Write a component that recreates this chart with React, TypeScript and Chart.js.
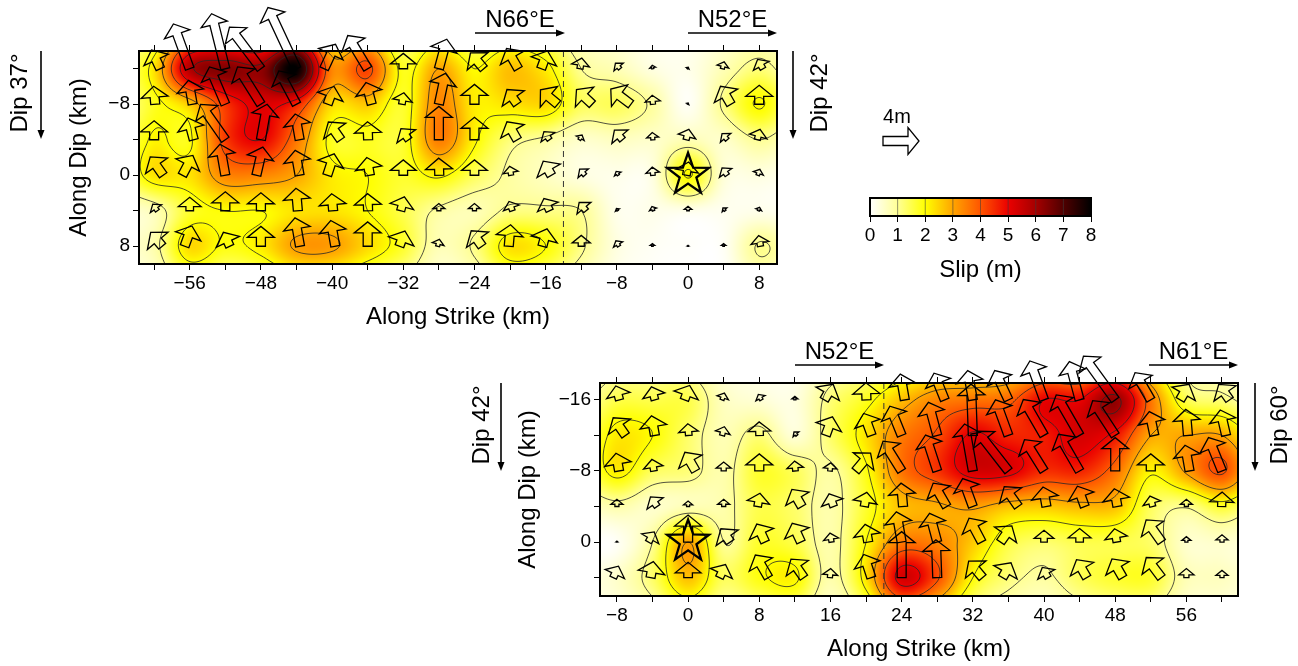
import React, { useEffect, useRef } from "react";
import { Chart, registerables } from "chart.js";

Chart.register(...registerables);

const W = 1298;
const H = 666;
const FONT = '"Liberation Sans", Arial, sans-serif';

// ---------- data, metres / degrees ----------
const topCols = [-60, -56, -52, -48, -44, -40, -36, -32, -28, -24, -20, -16, -12, -8, -4, 0, 4, 8];
const topRows = [-12, -8, -4, 0, 4, 8];
const topSlip = [
  [2.3, 5.8, 6.4, 6.2, 8.0, 3.4, 4.2, 1.8, 3.0, 2.0, 2.7, 2.2, 1.0, 0.7, 0.3, 0.2, 0.7, 1.2],
  [1.8, 2.6, 4.4, 5.2, 4.6, 2.4, 2.6, 1.7, 3.4, 2.2, 2.3, 2.4, 1.4, 1.4, 0.9, 0.1, 1.1, 2.05],
  [2.1, 1.9, 4.3, 5.0, 3.6, 1.8, 1.8, 1.7, 3.5, 2.1, 1.2, 0.9, 0.5, 0.6, 0.5, 0.7, 0.5, 1.0],
  [2.3, 2.3, 3.4, 3.4, 3.0, 2.2, 2.0, 1.7, 2.1, 1.4, 0.9, 0.6, 0.3, 0.2, 0.3, 2.05, 0.4, 0.3],
  [0.7, 1.7, 2.0, 2.0, 2.3, 2.3, 2.0, 1.5, 0.9, 0.7, 1.1, 1.1, 1.0, 0.2, 0.2, 0.2, 0.15, 0.2],
  [0.8, 2.4, 1.9, 2.2, 3.1, 3.1, 2.4, 1.7, 0.7, 1.1, 2.3, 2.0, 1.1, 0.3, 0.1, 0.05, 0.1, 1.05],
];
const topArrowLen = [
  [2.3, 5.3, 6.3, 5.8, 7.5, 3.0, 4.3, 1.7, 3.4, 2.3, 2.6, 2.1, 1.2, 0.8, 0.4, 0.2, 0.8, 1.2],
  [2.0, 2.7, 4.5, 4.9, 4.2, 2.1, 2.5, 1.3, 3.5, 2.2, 2.0, 2.5, 2.4, 2.8, 1.0, 0.15, 2.3, 2.1],
  [2.1, 2.5, 4.8, 4.0, 2.9, 2.4, 2.0, 1.5, 3.7, 2.5, 2.3, 1.1, 0.6, 1.4, 0.8, 1.2, 0.9, 1.2],
  [2.5, 2.5, 3.5, 3.2, 2.8, 2.5, 2.0, 1.7, 1.9, 1.7, 1.0, 1.8, 0.9, 0.5, 0.9, 1.5, 1.0, 0.7],
  [0.9, 1.5, 2.1, 2.0, 2.5, 1.9, 1.9, 1.6, 0.8, 0.8, 1.1, 1.5, 1.2, 0.3, 0.5, 0.5, 0.4, 0.4],
  [2.0, 2.4, 1.7, 2.2, 3.2, 2.9, 2.7, 1.8, 0.8, 2.1, 2.4, 2.0, 1.2, 0.7, 0.3, 0.1, 0.3, 1.2],
];
const topRake = [
  [115, 110, 104, 127, 115, 65, 121, 90, 75, 130, 120, 70, 80, 130, 100, 60, 75, 120],
  [95, 100, 113, 122, 118, 70, 105, 80, 78, 90, 125, 140, 137, 143, 95, 60, 120, 90],
  [90, 105, 125, 80, 100, 125, 92, 125, 90, 90, 120, 125, 60, 130, 95, 75, 130, 75],
  [125, 62, 100, 77, 100, 72, 100, 90, 92, 90, 100, 120, 130, 120, 95, 80, 125, 70],
  [125, 90, 90, 90, 95, 95, 92, 75, 90, 90, 110, 115, 130, 120, 110, 90, 130, 70],
  [130, 70, 115, 90, 100, 100, 90, 70, 75, 125, 85, 75, 90, 120, 90, 90, 90, 100],
];

const botCols = [-8, -4, 0, 4, 8, 12, 16, 20, 24, 28, 32, 36, 40, 44, 48, 52, 56, 60];
const botRows = [-16, -12, -8, -4, 0, 4];
const botSlip = [
  [1.5, 1.5, 1.5, 0.6, 0.4, 0.3, 1.2, 1.8, 2.7, 3.4, 3.6, 3.8, 5.0, 5.0, 6.2, 3.6, 1.5, 1.2],
  [2.2, 2.0, 1.3, 0.7, 1.2, 0.4, 1.3, 2.3, 3.5, 4.1, 5.1, 4.6, 4.7, 5.3, 4.8, 3.0, 3.0, 3.0],
  [2.2, 1.4, 1.2, 0.8, 1.7, 1.4, 0.9, 1.9, 3.6, 4.4, 5.3, 5.2, 4.5, 4.6, 3.7, 2.1, 3.1, 4.1],
  [0.8, 0.5, 0.7, 0.8, 1.5, 1.3, 0.8, 1.7, 2.7, 2.9, 3.1, 2.7, 2.6, 2.8, 2.7, 1.4, 1.05, 1.7],
  [0.1, 1.0, 3.0, 1.0, 1.7, 1.5, 0.8, 2.0, 3.5, 3.4, 2.6, 1.6, 1.3, 1.5, 1.5, 1.3, 0.5, 0.5],
  [0.5, 1.3, 2.7, 1.4, 1.9, 2.1, 0.8, 2.3, 5.3, 4.1, 2.0, 1.2, 0.9, 1.4, 1.7, 1.7, 0.7, 0.6],
];
const botArrowLen = [
  [1.6, 1.5, 1.7, 0.8, 0.7, 0.4, 2.0, 1.9, 2.9, 3.2, 3.3, 3.6, 4.6, 4.4, 6.0, 3.5, 2.0, 2.1],
  [2.4, 2.2, 1.3, 1.0, 1.5, 0.5, 2.2, 2.6, 3.5, 3.8, 5.7, 4.2, 4.6, 5.2, 4.6, 2.7, 2.9, 2.9],
  [2.0, 1.3, 2.4, 1.0, 1.9, 1.1, 0.9, 2.6, 3.9, 4.2, 5.3, 5.6, 4.1, 4.7, 3.7, 1.9, 2.9, 4.0],
  [0.8, 1.3, 0.6, 0.8, 1.5, 2.2, 1.5, 1.6, 2.6, 3.0, 3.3, 2.7, 2.2, 2.4, 2.0, 1.2, 0.8, 1.6],
  [0.1, 1.3, 3.0, 1.8, 2.2, 2.3, 1.0, 2.0, 3.4, 3.3, 3.0, 2.2, 1.3, 1.5, 1.5, 3.0, 0.6, 0.8],
  [1.4, 1.8, 1.7, 1.6, 2.9, 2.5, 1.0, 2.7, 5.1, 4.2, 2.4, 1.9, 1.3, 2.3, 2.4, 2.8, 1.0, 0.8],
];
const botRake = [
  [105, 105, 70, 70, 120, 90, 60, 92, 100, 112, 100, 115, 110, 105, 126, 120, 60, 125],
  [125, 100, 95, 75, 92, 130, 70, 110, 112, 105, 92, 110, 120, 120, 123, 102, 95, 103],
  [100, 100, 120, 90, 90, 95, 85, 50, 122, 108, 100, 128, 122, 120, 90, 90, 100, 112],
  [90, 125, 90, 90, 80, 120, 110, 80, 95, 120, 110, 125, 100, 110, 100, 105, 90, 88],
  [90, 60, 90, 125, 115, 115, 100, 100, 100, 105, 118, 55, 90, 90, 100, 125, 90, 90],
  [65, 80, 90, 65, 120, 125, 85, 108, 90, 92, 130, 60, 120, 120, 120, 127, 90, 90],
];

const topXTicks = [-60, -56, -52, -48, -44, -40, -36, -32, -28, -24, -20, -16, -12, -8, -4, 0, 4, 8];
const topYTicks = [-12, -8, -4, 0, 4, 8];
const botXTicks = [-8, -4, 0, 4, 8, 12, 16, 20, 24, 28, 32, 36, 40, 44, 48, 52, 56, 60];
const botYTicks = [-16, -12, -8, -4, 0, 4];
const barTicks = [0, 1, 2, 3, 4, 5, 6, 7, 8];
const contourLevels = [1, 2, 3, 4, 5, 6, 7];
const slipStops = [
  [0, 255, 255, 255],
  [1, 255, 255, 150],
  [2, 255, 255, 0],
  [3, 255, 165, 0],
  [4, 255, 85, 0],
  [5, 235, 0, 0],
  [6, 165, 0, 0],
  [7, 80, 0, 0],
  [8, 0, 0, 0],
];

const HEAD_L = 11;
const HEAD_W = 27;
const STEM_W = 9;
const PX_PER_M = 9;

// ---------- helpers ----------
function slipColor(v: number): number[] {
  const t = Math.max(0, Math.min(8, v));
  const i = Math.min(7, Math.floor(t));
  const f = t - i;
  const a = slipStops[i];
  const b = slipStops[i + 1];
  return [a[1] + (b[1] - a[1]) * f, a[2] + (b[2] - a[2]) * f, a[3] + (b[3] - a[3]) * f];
}

function cr(a: number, b: number, c: number, d: number, t: number) {
  return 0.5 * (2 * b + (c - a) * t + (2 * a - 5 * b + 4 * c - d) * t * t + (3 * b - a - 3 * c + d) * t * t * t);
}

function makeField(grid: number[][], cols: number[], rows: number[], edge: number) {
  const ny = rows.length;
  const nx = cols.length;
  const P: number[][] = [];
  for (let j = -1; j <= ny; j++) {
    const r: number[] = [];
    for (let i = -1; i <= nx; i++) {
      const jj = Math.max(0, Math.min(ny - 1, j));
      const ii = Math.max(0, Math.min(nx - 1, i));
      const f = (j !== jj ? edge : 1) * (i !== ii ? edge : 1);
      r.push(grid[jj][ii] * f);
    }
    P.push(r);
  }
  const at = (j: number, i: number) => P[Math.max(0, Math.min(ny + 1, j))][Math.max(0, Math.min(nx + 1, i))];
  const dx = cols[1] - cols[0];
  const dy = rows[1] - rows[0];
  return (x: number, y: number) => {
    const u = Math.max(0, Math.min(nx + 0.999, (x - cols[0]) / dx + 1));
    const v = Math.max(0, Math.min(ny + 0.999, (y - rows[0]) / dy + 1));
    const i = Math.floor(u);
    const j = Math.floor(v);
    const fu = u - i;
    const fv = v - j;
    const rowV = [-1, 0, 1, 2].map((m) =>
      cr(at(j + m, i - 1), at(j + m, i), at(j + m, i + 1), at(j + m, i + 2), fu)
    );
    return Math.max(0, cr(rowV[0], rowV[1], rowV[2], rowV[3], fv));
  };
}

function drawArrow(ctx: CanvasRenderingContext2D, x0: number, y0: number, x1: number, y1: number) {
  const L = Math.hypot(x1 - x0, y1 - y0);
  if (L < 0.01) return;
  const ux = (x1 - x0) / L;
  const uy = (y1 - y0) / L;
  const nx = -uy;
  const ny = ux;
  const s = Math.min(1, L / 16);
  const hl = HEAD_L * s;
  const hw = (HEAD_W * s) / 2;
  const sw = (STEM_W * s) / 2;
  const bx = x1 - ux * hl;
  const by = y1 - uy * hl;
  ctx.beginPath();
  ctx.moveTo(x0 + nx * sw, y0 + ny * sw);
  ctx.lineTo(bx + nx * sw, by + ny * sw);
  ctx.lineTo(bx + nx * hw, by + ny * hw);
  ctx.lineTo(x1, y1);
  ctx.lineTo(bx - nx * hw, by - ny * hw);
  ctx.lineTo(bx - nx * sw, by - ny * sw);
  ctx.lineTo(x0 - nx * sw, y0 - ny * sw);
  ctx.closePath();
  ctx.stroke();
}

function drawStar(ctx: CanvasRenderingContext2D, cx: number, cy: number, R: number) {
  ctx.beginPath();
  for (let k = 0; k < 10; k++) {
    const r = k % 2 === 0 ? R : R * 0.4;
    const a = -Math.PI / 2 + (k * Math.PI) / 5;
    const x = cx + r * Math.cos(a);
    const y = cy + r * Math.sin(a);
    if (k === 0) ctx.moveTo(x, y);
    else ctx.lineTo(x, y);
  }
  ctx.closePath();
  ctx.stroke();
}

function hArrow(ctx: CanvasRenderingContext2D, x0: number, x1: number, y: number) {
  ctx.strokeStyle = "#000";
  ctx.fillStyle = "#000";
  ctx.lineWidth = 1.6;
  ctx.beginPath();
  ctx.moveTo(x0, y);
  ctx.lineTo(x1 - 6, y);
  ctx.stroke();
  ctx.beginPath();
  ctx.moveTo(x1, y);
  ctx.lineTo(x1 - 9, y - 3.5);
  ctx.lineTo(x1 - 9, y + 3.5);
  ctx.closePath();
  ctx.fill();
}

function vArrow(ctx: CanvasRenderingContext2D, x: number, y0: number, y1: number) {
  ctx.strokeStyle = "#000";
  ctx.fillStyle = "#000";
  ctx.lineWidth = 1.6;
  ctx.beginPath();
  ctx.moveTo(x, y0);
  ctx.lineTo(x, y1 - 6);
  ctx.stroke();
  ctx.beginPath();
  ctx.moveTo(x, y1);
  ctx.lineTo(x - 3.5, y1 - 9);
  ctx.lineTo(x + 3.5, y1 - 9);
  ctx.closePath();
  ctx.fill();
}

function panelPlugin(cfg: any) {
  const field = makeField(cfg.slip, cfg.cols, cfg.rows, 0.55);
  return {
    id: "panel",
    beforeDatasetsDraw(chart: any) {
      const { ctx, chartArea: a, scales } = chart;
      const xs = scales.x;
      const ys = scales.y;
      const w = Math.round(a.right - a.left);
      const h = Math.round(a.bottom - a.top);
      const off = document.createElement("canvas");
      off.width = w;
      off.height = h;
      const oc = off.getContext("2d")!;
      const img = oc.createImageData(w, h);
      for (let j = 0; j < h; j++) {
        const yv = ys.getValueForPixel(a.top + j + 0.5);
        for (let i = 0; i < w; i++) {
          const c = slipColor(field(xs.getValueForPixel(a.left + i + 0.5), yv));
          const p = (j * w + i) * 4;
          img.data[p] = c[0];
          img.data[p + 1] = c[1];
          img.data[p + 2] = c[2];
          img.data[p + 3] = 255;
        }
      }
      oc.putImageData(img, 0, 0);
      ctx.drawImage(off, a.left, a.top);

      // contours: marching squares over the field
      const step = 2;
      const nx = Math.ceil(w / step);
      const ny = Math.ceil(h / step);
      const vals: number[][] = [];
      for (let j = 0; j <= ny; j++) {
        const r: number[] = [];
        const yv = ys.getValueForPixel(a.top + j * step);
        for (let i = 0; i <= nx; i++) r.push(field(xs.getValueForPixel(a.left + i * step), yv));
        vals.push(r);
      }
      ctx.save();
      ctx.beginPath();
      ctx.rect(a.left, a.top, w, h);
      ctx.clip();
      ctx.strokeStyle = "rgba(40,40,40,0.8)";
      ctx.lineWidth = 1;
      ctx.beginPath();
      for (const lv of contourLevels) {
        for (let j = 0; j < ny; j++) {
          for (let i = 0; i < nx; i++) {
            const v = [vals[j][i], vals[j][i + 1], vals[j + 1][i + 1], vals[j + 1][i]];
            const px = [0, 1, 1, 0];
            const py = [0, 0, 1, 1];
            const pts: number[][] = [];
            for (let e = 0; e < 4; e++) {
              const n = (e + 1) % 4;
              if (v[e] < lv !== v[n] < lv) {
                const t = (lv - v[e]) / (v[n] - v[e]);
                pts.push([
                  a.left + (i + px[e] + (px[n] - px[e]) * t) * step,
                  a.top + (j + py[e] + (py[n] - py[e]) * t) * step,
                ]);
              }
            }
            for (let q = 0; q + 1 < pts.length; q += 2) {
              ctx.moveTo(pts[q][0], pts[q][1]);
              ctx.lineTo(pts[q + 1][0], pts[q + 1][1]);
            }
          }
        }
      }
      ctx.stroke();
      ctx.restore();
    },
    afterDatasetsDraw(chart: any) {
      const { ctx, chartArea: a, scales } = chart;
      const xs = scales.x;
      const ys = scales.y;
      ctx.save();
      // fault-bend dashed line
      ctx.strokeStyle = "#333";
      ctx.lineWidth = 1;
      ctx.setLineDash([6, 4]);
      const bx = xs.getPixelForValue(cfg.bend);
      ctx.beginPath();
      ctx.moveTo(bx, a.top);
      ctx.lineTo(bx, a.bottom);
      ctx.stroke();
      ctx.setLineDash([]);
      // frame
      ctx.strokeStyle = "#000";
      ctx.lineWidth = 2;
      ctx.strokeRect(a.left, a.top, a.right - a.left, a.bottom - a.top);
      // slip vectors
      ctx.lineWidth = 1.3;
      ctx.lineJoin = "miter";
      ctx.strokeStyle = "#000";
      cfg.rows.forEach((ry: number, j: number) => {
        cfg.cols.forEach((rx: number, i: number) => {
          const len = cfg.len[j][i] * PX_PER_M;
          const ang = (cfg.rake[j][i] * Math.PI) / 180;
          const ux = len * Math.cos(ang);
          const uy = -len * Math.sin(ang);
          const shift = len < 29 ? 0.7 : 0;
          const x0 = xs.getPixelForValue(rx) - shift * ux;
          const y0 = ys.getPixelForValue(ry);
          drawArrow(ctx, x0, y0, x0 + ux, y0 + uy);
        });
      });
      // hypocentre
      ctx.lineWidth = 2.3;
      drawStar(ctx, xs.getPixelForValue(0), ys.getPixelForValue(0) - 0.5, 22);
      // strike labels, dip labels
      ctx.textBaseline = "middle";
      ctx.textAlign = "center";
      for (const s of cfg.strike) {
        ctx.fillStyle = "#000";
        ctx.font = `24px ${FONT}`;
        ctx.fillText(s.text, (s.x0 + s.x1) / 2, s.y - 13);
        hArrow(ctx, s.x0, s.x1, s.y);
      }
      for (const d of cfg.dip) {
        ctx.save();
        ctx.translate(d.tx, a.top + 42);
        ctx.rotate(-Math.PI / 2);
        ctx.fillStyle = "#000";
        ctx.font = `24px ${FONT}`;
        ctx.fillText(d.text, 0, 0);
        ctx.restore();
        vArrow(ctx, d.ax, a.top, a.top + 88);
      }
      ctx.restore();
    },
  };
}

function fixedTicks(vals: number[]) {
  return (s: any) => {
    s.ticks = vals.map((value) => ({ value }));
  };
}
const labelEvery8 = (v: any) => {
  const n = Number(v);
  if (n % 8 !== 0) return "";
  return n < 0 ? "\u2212" + Math.abs(n) : String(n);
};

function panelConfig(cfg: any) {
  const { left, right, top, bottom, yBox } = cfg.box;
  const xBox = 68;
  const gridOpt = { drawOnChartArea: false, drawTicks: true, tickLength: 6, color: "#000", lineWidth: 1 };
  const pts: any[] = [];
  cfg.rows.forEach((y: number) => cfg.cols.forEach((x: number) => pts.push({ x, y })));
  return {
    type: "scatter",
    data: { datasets: [{ data: pts, pointRadius: 0, showLine: false }] },
    options: {
      responsive: false,
      animation: false,
      events: [],
      layout: {
        padding: { left: left - yBox, right: W - right, top: top - 6, bottom: H - bottom - xBox },
      },
      plugins: { legend: { display: false }, tooltip: { enabled: false } },
      scales: {
        x: {
          type: "linear",
          position: "bottom",
          min: cfg.xMin,
          max: cfg.xMax,
          afterBuildTicks: fixedTicks(cfg.xTicks),
          afterFit: (s: any) => { s.height = xBox; },
          grid: gridOpt,
          border: { display: false },
          ticks: {
            callback: labelEvery8,
            autoSkip: false,
            maxRotation: 0,
            padding: 2,
            color: "#000",
            font: { family: FONT, size: 19 },
          },
          title: {
            display: true,
            text: "Along Strike (km)",
            color: "#000",
            padding: 0,
            font: { family: FONT, size: 24 },
          },
        },
        x2: {
          type: "linear",
          axis: "x",
          position: "top",
          min: cfg.xMin,
          max: cfg.xMax,
          afterBuildTicks: fixedTicks(cfg.xTicks),
          afterFit: (s: any) => { s.height = 6; },
          grid: gridOpt,
          border: { display: false },
          ticks: { display: false },
        },
        y: {
          type: "linear",
          position: "left",
          reverse: true,
          min: cfg.yMin,
          max: cfg.yMax,
          afterBuildTicks: fixedTicks(cfg.yTicks),
          afterFit: (s: any) => { s.width = yBox; },
          grid: gridOpt,
          border: { display: false },
          ticks: {
            callback: labelEvery8,
            autoSkip: false,
            padding: 3,
            color: "#000",
            font: { family: FONT, size: 19 },
          },
          title: {
            display: true,
            text: "Along Dip (km)",
            color: "#000",
            padding: 0,
            font: { family: FONT, size: 24 },
          },
        },
      },
    },
    plugins: [panelPlugin(cfg)],
  };
}

const topPanel = {
  slip: topSlip,
  len: topArrowLen,
  rake: topRake,
  cols: topCols,
  rows: topRows,
  xTicks: topXTicks,
  yTicks: topYTicks,
  xMin: -61.7,
  xMax: 10,
  yMin: -14,
  yMax: 10,
  bend: -14,
  box: { left: 139, right: 777, top: 51, bottom: 264, yBox: 74 },
  strike: [
    { text: "N66\u00b0E", x0: 475, x1: 565, y: 33 },
    { text: "N52\u00b0E", x0: 688, x1: 777, y: 33 },
  ],
  dip: [
    { text: "Dip 37\u00b0", tx: 20, ax: 41 },
    { text: "Dip 42\u00b0", tx: 820, ax: 793 },
  ],
};

const botPanel = {
  slip: botSlip,
  len: botArrowLen,
  rake: botRake,
  cols: botCols,
  rows: botRows,
  xTicks: botXTicks,
  yTicks: botYTicks,
  xMin: -9.9,
  xMax: 61.8,
  yMin: -17.9,
  yMax: 6.07,
  bend: 22,
  box: { left: 600, right: 1238, top: 383, bottom: 596, yBox: 86 },
  strike: [
    { text: "N52\u00b0E", x0: 795, x1: 884, y: 365 },
    { text: "N61\u00b0E", x0: 1149, x1: 1238, y: 365 },
  ],
  dip: [
    { text: "Dip 42\u00b0", tx: 482, ax: 501 },
    { text: "Dip 60\u00b0", tx: 1280, ax: 1255 },
  ],
};

const barPlugin = {
  id: "bar",
  beforeDatasetsDraw(chart: any) {
    const { ctx, chartArea: a, scales } = chart;
    const xs = scales.x;
    const g = ctx.createLinearGradient(xs.getPixelForValue(0), 0, xs.getPixelForValue(8), 0);
    slipStops.forEach((st) => g.addColorStop(st[0] / 8, `rgb(${st[1]},${st[2]},${st[3]})`));
    ctx.save();
    ctx.fillStyle = g;
    ctx.fillRect(a.left, a.top, a.right - a.left, a.bottom - a.top);
    ctx.strokeStyle = "rgba(60,60,60,0.55)";
    ctx.lineWidth = 1;
    barTicks.forEach((t) => {
      const x = xs.getPixelForValue(t);
      ctx.beginPath();
      ctx.moveTo(x, a.top);
      ctx.lineTo(x, a.bottom);
      ctx.stroke();
    });
    ctx.strokeStyle = "#000";
    ctx.lineWidth = 2;
    ctx.strokeRect(a.left, a.top, a.right - a.left, a.bottom - a.top);
    // 4 m reference vector
    ctx.lineWidth = 1.3;
    drawArrow(ctx, 883, 141, 883 + 4 * PX_PER_M, 141);
    ctx.fillStyle = "#000";
    ctx.font = `20px ${FONT}`;
    ctx.textAlign = "center";
    ctx.textBaseline = "middle";
    ctx.fillText("4m", 897, 117);
    ctx.restore();
  },
};

function barConfig() {
  const xBox = 69;
  return {
    type: "scatter",
    data: { datasets: [{ data: barTicks.map((x) => ({ x, y: 0 })), pointRadius: 0, showLine: false }] },
    options: {
      responsive: false,
      animation: false,
      events: [],
      layout: { padding: { left: 870, right: W - 1091, top: 198, bottom: H - 216 - xBox } },
      plugins: { legend: { display: false }, tooltip: { enabled: false } },
      scales: {
        x: {
          type: "linear",
          position: "bottom",
          min: 0,
          max: 8,
          afterBuildTicks: fixedTicks(barTicks),
          afterFit: (s: any) => { s.height = xBox; },
          grid: { drawOnChartArea: false, tickLength: 6, color: "#000" },
          border: { display: false },
          ticks: { padding: 2, color: "#000", autoSkip: false, maxRotation: 0, font: { family: FONT, size: 19 } },
          title: { display: true, text: "Slip (m)", color: "#000", padding: 0, font: { family: FONT, size: 24 } },
        },
        y: { display: false, min: -1, max: 1 },
      },
    },
    plugins: [barPlugin],
  };
}

export default function App() {
  const a = useRef<HTMLCanvasElement>(null);
  const b = useRef<HTMLCanvasElement>(null);
  const c = useRef<HTMLCanvasElement>(null);
  useEffect(() => {
    const charts = [
      new Chart(a.current!, panelConfig(topPanel) as any),
      new Chart(b.current!, panelConfig(botPanel) as any),
      new Chart(c.current!, barConfig() as any),
    ];
    return () => charts.forEach((ch) => ch.destroy());
  }, []);
  const st: React.CSSProperties = { position: "absolute", left: 0, top: 0, width: W, height: H };
  return (
    <div style={{ position: "fixed", left: 0, top: 0, width: W, height: H, background: "#fff", overflow: "hidden" }}>
      <canvas ref={a} width={W} height={H} style={st} />
      <canvas ref={b} width={W} height={H} style={st} />
      <canvas ref={c} width={W} height={H} style={st} />
    </div>
  );
}
